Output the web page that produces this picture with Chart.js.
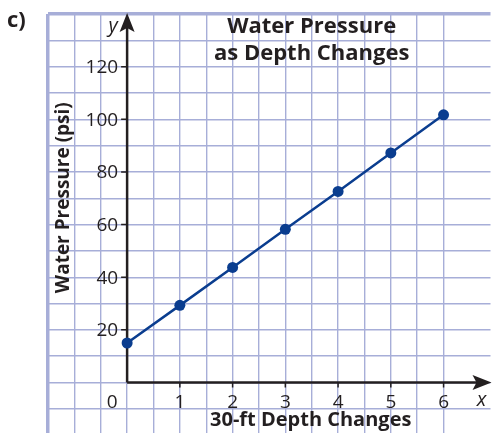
<!DOCTYPE html>
<html><head><meta charset="utf-8">
<script src="https://cdn.jsdelivr.net/npm/chart.js@4/dist/chart.umd.min.js"></script>
<style>html,body{margin:0;padding:0;background:#fff}#wrap{width:496px;height:438px;position:relative}</style>
</head><body><div id="wrap"><canvas id="c" width="496" height="438"></canvas></div>
<script>
// ---- data ----
const depthChanges = [0, 1, 2, 3, 4, 5, 6];
const pressurePsi = [15.0, 29.3, 43.7, 58.2, 72.6, 87.2, 101.7];
const xTickValues = [1, 2, 3, 4, 5, 6];
const yTickValues = [20, 40, 60, 80, 100, 120];
const titleLines = ['Water Pressure', 'as Depth Changes'];
const xAxisTitle = '30-ft Depth Changes';
const yAxisTitle = 'Water Pressure (psi)';

const GRID = '#a7aed8';
const INK = '#231f20';
const BLUE = '#0a3d8f';
const TICKFONT = '400 19px "Open Sans", sans-serif';

const overlay = {
  id: 'overlay',
  beforeDatasetsDraw(chart) {
    const {ctx, chartArea: a, scales: {x, y}} = chart;
    const x0 = x.getPixelForValue(0), y0 = y.getPixelForValue(0);
    ctx.save();
    ctx.strokeStyle = INK; ctx.fillStyle = INK;
    ctx.lineWidth = 2.5;
    ctx.beginPath();
    ctx.moveTo(x0, y0); ctx.lineTo(x0, a.top + 12);
    ctx.moveTo(x0, y0); ctx.lineTo(a.right - 12, y0);
    ctx.stroke();
    ctx.beginPath();
    ctx.moveTo(x0, a.top - 1); ctx.lineTo(x0 - 7.5, a.top + 18); ctx.lineTo(x0, a.top + 14); ctx.lineTo(x0 + 7.5, a.top + 18); ctx.closePath();
    ctx.fill();
    ctx.beginPath();
    ctx.moveTo(a.right + 1, y0); ctx.lineTo(a.right - 18, y0 - 7.5); ctx.lineTo(a.right - 14, y0); ctx.lineTo(a.right - 18, y0 + 7.5); ctx.closePath();
    ctx.fill();
    ctx.lineWidth = 1.5;
    ctx.beginPath();
    yTickValues.forEach(v => { const p = y.getPixelForValue(v); ctx.moveTo(x0 - 6, p); ctx.lineTo(x0, p); });
    xTickValues.forEach(v => { const p = x.getPixelForValue(v); ctx.moveTo(p, y0); ctx.lineTo(p, y0 + 5); });
    ctx.stroke();
    ctx.restore();
  },
  afterDraw(chart) {
    const {ctx, chartArea: a, scales: {x, y}} = chart;
    const x0 = x.getPixelForValue(0), y0 = y.getPixelForValue(0);
    ctx.save();
    ctx.fillStyle = INK;
    ctx.font = TICKFONT;
    ctx.textBaseline = 'middle';
    ctx.textAlign = 'right';
    yTickValues.forEach(v => ctx.fillText(String(v), x0 - 9, y.getPixelForValue(v) + 1));
    ctx.textAlign = 'center';
    xTickValues.forEach(v => ctx.fillText(String(v), x.getPixelForValue(v), y0 + 20));
    ctx.fillText('0', x0 - 15, y0 + 20);
    ctx.font = 'italic 400 20px "Open Sans", sans-serif';
    ctx.fillText('x', a.right - 9, y0 + 18);
    ctx.fillText('y', x0 - 14, a.top + 12);
    const cx = x.getPixelForValue(3.5);
    ctx.font = 'bold 22px "Open Sans", sans-serif';
    ctx.fillText(titleLines[0], cx, a.top + 13);
    ctx.fillText(titleLines[1], cx, a.top + 40);
    ctx.font = 'bold 20px "Open Sans", sans-serif';
    ctx.fillText(xAxisTitle, cx - 1, y0 + 38);
    ctx.save();
    ctx.translate(x.getPixelForValue(-1.2), y.getPixelForValue(70.2));
    ctx.rotate(-Math.PI / 2);
    ctx.font = 'bold 19px "Open Sans", sans-serif';
    ctx.fillText(yAxisTitle, 0, 0);
    ctx.restore();
    ctx.font = 'bold 22px "Open Sans", sans-serif';
    ctx.textAlign = 'left';
    ctx.fillText('c)', 7, 21);
    ctx.restore();
  }
};

const isHalfStep = v => Math.abs(v * 2 - Math.round(v * 2)) < 1e-6;
const isTen = v => Math.abs(v / 10 - Math.round(v / 10)) < 1e-6;

new Chart(document.getElementById('c'), {
  type: 'scatter',
  data: {
    datasets: [{
      data: depthChanges.map((d, i) => ({x: d, y: pressurePsi[i]})),
      showLine: true,
      borderColor: BLUE,
      backgroundColor: BLUE,
      borderWidth: 2.5,
      pointRadius: 5.5,
      pointHoverRadius: 5.5,
      pointBorderWidth: 0,
      clip: false
    }]
  },
  options: {
    responsive: false,
    animation: false,
    devicePixelRatio: 1,
    layout: {padding: {left: 48, top: 14, right: 0, bottom: 0}},
    plugins: {legend: {display: false}, tooltip: {enabled: false}, title: {display: false}},
    scales: {
      x: {
        type: 'linear', min: -1.5, max: 6.89,
        border: {display: false},
        ticks: {display: false, stepSize: 0.5, autoSkip: false},
        grid: {
          drawTicks: false,
          color: c => isHalfStep(c.tick.value) ? GRID : 'rgba(0,0,0,0)',
          lineWidth: c => Math.abs(c.tick.value + 1.5) < 1e-6 ? 3.5 : 1.4
        },
        afterFit: s => { s.height = 0; }
      },
      y: {
        type: 'linear', min: -19, max: 140,
        border: {display: false},
        ticks: {display: false, stepSize: 10, autoSkip: false},
        grid: {
          drawTicks: false,
          color: c => isTen(c.tick.value) ? GRID : 'rgba(0,0,0,0)',
          lineWidth: c => c.tick.value === 140 ? 3.5 : 1.4
        },
        afterFit: s => { s.width = 0; }
      }
    }
  },
  plugins: [overlay]
});
</script>
</body></html>
